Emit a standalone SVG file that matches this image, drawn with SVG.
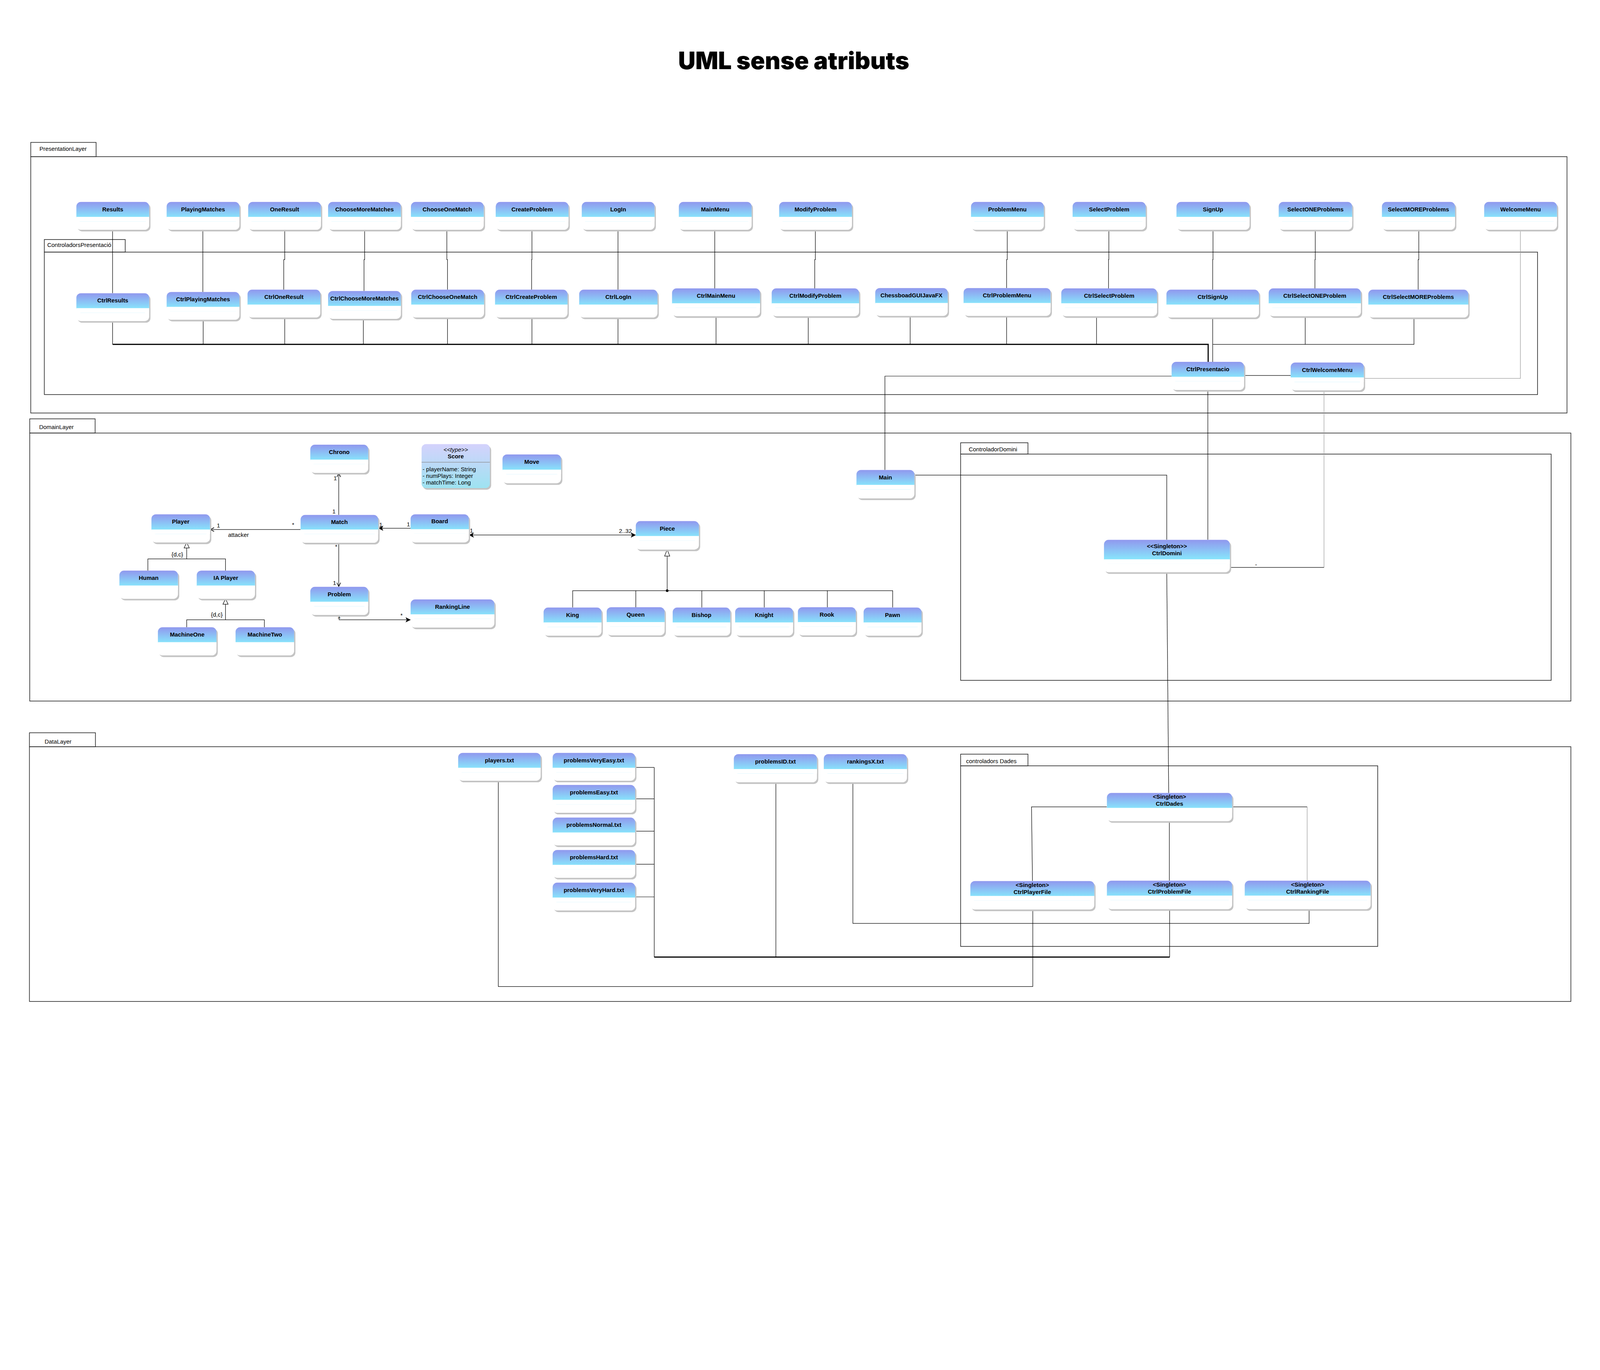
<svg xmlns="http://www.w3.org/2000/svg" width="4945" height="3506" viewBox="0 0 4945 3506" preserveAspectRatio="xMidYMin meet" style="width:100vw;height:100vh;display:block">
<defs>
<linearGradient id="hg" x1="0" y1="0" x2="0" y2="1"><stop offset="0" stop-color="#9098ee"/><stop offset="0.77" stop-color="#88e2fb"/><stop offset="1" stop-color="#88e2fb"/></linearGradient>
<linearGradient id="sg" x1="0" y1="0" x2="0" y2="1"><stop offset="0" stop-color="#d4d2fc"/><stop offset="1" stop-color="#9de3f1"/></linearGradient>
<marker id="open" viewBox="0 0 12 12" refX="11" refY="6" markerWidth="14" markerHeight="14" markerUnits="userSpaceOnUse" orient="auto-start-reverse"><path d="M1,1 L11,6 L1,11" fill="none" stroke="#000" stroke-width="1.6"/></marker>
<marker id="fill" viewBox="0 0 12 12" refX="11" refY="6" markerWidth="16" markerHeight="16" markerUnits="userSpaceOnUse" orient="auto-start-reverse"><path d="M0,0 L12,6 L0,12 L3,6 Z" fill="#000"/></marker>
</defs>
<style>
.sh{fill:#c4c4c4}
.bd{fill:#fff}
.hd{fill:url(#hg)}
.nt{font-family:'Liberation Sans',Arial,sans-serif;font-weight:bold;font-size:18px;text-anchor:middle;fill:#000}
.pk{fill:none;stroke:#2a2a2a;stroke-width:2}
.tb{fill:#fff;stroke:#2a2a2a;stroke-width:2}
.tl{font-family:'Liberation Sans',Arial,sans-serif;font-size:18px;fill:#000}
.lb{font-family:'Liberation Sans',Arial,sans-serif;font-size:18px;text-anchor:middle;fill:#000}
.cn{fill:none;stroke:#000;stroke-width:1.5}
.gr{stroke:#9a9a9a}
.tk{stroke-width:3.5}
.gt{fill:#fff;stroke:#000;stroke-width:1.5}
</style>
<rect width="4945" height="3506" fill="#fff"/>
<text x="2453" y="214" font-family="Inter, 'Liberation Sans', sans-serif" font-weight="900" font-size="74" text-anchor="middle" textLength="714" lengthAdjust="spacingAndGlyphs">UML sense atributs</text>

<g id="containers">
<rect class="tb" x="95" y="440" width="202" height="44"/><text class="tl" x="122" y="466">PresentationLayer</text>
<rect class="pk" x="95" y="484" width="4748" height="792"/>
<rect class="tb" x="137" y="740" width="250" height="39"/><text class="tl" x="146" y="763">ControladorsPresentació</text>
<rect class="pk" x="137" y="779" width="4615" height="440"/>
<rect class="tb" x="92" y="1294" width="202" height="44"/><text class="tl" x="121" y="1326">DomainLayer</text>
<rect class="pk" x="92" y="1338" width="4763" height="828"/>
<rect class="tb" x="2969" y="1368" width="208" height="35"/><text class="tl" x="2994" y="1395">ControladorDomini</text>
<rect class="pk" x="2969" y="1403" width="1825" height="699"/>
<rect class="tb" x="91" y="2264" width="204" height="43"/><text class="tl" x="138" y="2298">DataLayer</text>
<rect class="pk" x="91" y="2307" width="4764" height="787"/>
<rect class="tb" x="2969" y="2330" width="208" height="36"/><text class="tl" x="2986" y="2358">controladors Dades</text>
<rect class="pk" x="2969" y="2366" width="1289" height="558"/>
</g>

<g id="connectors">
<path class="cn" d="M348,710 V906"/>
<path class="cn" d="M627,710 V902"/>
<path class="cn" d="M880,710 V802 H877 V895"/>
<path class="cn" d="M1127,710 V802 H1125 V899"/>
<path class="cn" d="M1381,710 V802 H1383 V895"/>
<path class="cn" d="M1644,710 V802 H1643 V895"/>
<path class="cn" d="M1910,710 V895"/>
<path class="cn" d="M2209,710 V891"/>
<path class="cn" d="M2520,710 V802 H2518 V891"/>
<path class="cn" d="M3113,710 V802 H3111 V890"/>
<path class="cn" d="M3427,710 V802 H3426 V891"/>
<path class="cn" d="M3749,710 V802 H3748 V895"/>
<path class="cn" d="M4065,710 V802 H4064 V891"/>
<path class="cn" d="M4385,710 V802 H4383 V895"/>
<path class="cn gr" d="M4699,710 V1169 H4215"/>
<path class="cn" d="M348,992 V1064"/>
<path class="cn tk" d="M348,1064 H3734 V1118"/>
<path class="cn" d="M628,988 V1064"/>
<path class="cn" d="M880,981 V1064"/>
<path class="cn" d="M1123,985 V1064"/>
<path class="cn" d="M1383,981 V1064"/>
<path class="cn" d="M1644,981 V1064"/>
<path class="cn" d="M1910,981 V1064"/>
<path class="cn" d="M2213,977 V1064"/>
<path class="cn" d="M2498,977 V1064"/>
<path class="cn" d="M2813,976 V1064"/>
<path class="cn" d="M3111,976 V1064"/>
<path class="cn" d="M3389,977 V1064"/>
<path class="cn" d="M3748,981 V1118"/>
<path class="cn" d="M4034,977 V1064"/>
<path class="cn" d="M4370,981 V1064 H3748"/>
<path class="cn" d="M3845,1160 H3989"/>
<path class="cn" d="M2735,1452 V1162 H3621"/>
<path class="cn" d="M2826,1468 H3606 V1668"/>
<path class="cn" d="M3733,1205 V1668"/>
<path class="cn gr" d="M4092,1206 V1753"/>
<path class="cn" d="M4092,1753 H3801"/>
<text class="lb" x="3882" y="1750">-</text>
<path class="cn" d="M3606,1768 L3612,2450"/>

<path class="cn" d="M1047,1591 V1462" marker-end="url(#open)"/>
<path class="cn" d="M929,1636 H650" marker-end="url(#open)"/>
<path class="cn" d="M1269,1632 H1170" marker-end="url(#fill)"/>
<path class="cn" d="M1450,1653 H1964" marker-start="url(#fill)" marker-end="url(#fill)"/>
<path class="cn" d="M1047,1677 V1812" marker-end="url(#open)"/>
<path class="cn" d="M1048,1900 V1915 H1268" marker-end="url(#fill)"/>
<path class="cn" d="M577,1727 V1693"/>
<polygon class="gt" points="577,1676 569,1693 585,1693"/>
<path class="cn" d="M457,1763 V1727 H697 V1763"/>
<path class="cn" d="M697,1915 V1867"/>
<polygon class="gt" points="697,1850 689,1867 705,1867"/>
<path class="cn" d="M577,1938 V1915 H817 V1938"/>
<path class="cn" d="M2062,1825 V1718"/>
<polygon class="gt" points="2062,1698 2054,1718 2070,1718"/>
<path class="cn" d="M1770,1877 V1825 H2759 V1877"/>
<path class="cn" d="M1965,1825 V1876"/>
<path class="cn" d="M2169,1825 V1877"/>
<path class="cn" d="M2362,1825 V1877"/>
<path class="cn" d="M2557,1825 V1876"/>
<circle cx="2062" cy="1825" r="4" fill="#000"/>
<text class="lb" x="1036" y="1484">1</text>
<text class="lb" x="1032" y="1586">1</text>
<text class="lb" x="906" y="1627">*</text>
<text class="lb" x="675" y="1630">1</text>
<text class="tl" x="705" y="1659">attacker</text>
<text class="lb" x="1177" y="1628">1</text>
<text class="lb" x="1262" y="1626">1</text>
<text class="lb" x="1457" y="1645">1</text>
<text class="lb" x="1933" y="1647">2..32</text>
<text class="lb" x="1039" y="1695">*</text>
<text class="lb" x="1034" y="1807">1</text>
<text class="lb" x="1048" y="1910">1</text>
<text class="lb" x="1241" y="1907">*</text>
<text class="lb" x="548" y="1719">{d,c}</text>
<text class="lb" x="670" y="1905">{d,c}</text>

<path class="cn" d="M1963,2371 H2022 M1963,2468 H2022 M1963,2568 H2022 M1963,2670 H2022 M1963,2771 H2022"/>
<path class="cn" d="M2022,2371 V2957"/>
<path class="cn tk" d="M2022,2957 H3615"/>
<path class="cn" d="M3615,2957 V2809"/>
<path class="cn" d="M2398,2417 V2957"/>
<path class="cn" d="M2636,2417 V2853 H4046 V2809"/>
<path class="cn" d="M1540,2412 V3048 H3192 V2810"/>
<path class="cn" d="M3421,2493 H3188 L3191,2722"/>
<path class="cn" d="M3808,2493 H4040"/>
<path class="cn gr" d="M4040,2493 V2721"/>
<path class="cn" d="M3614,2537 V2721"/>
</g>

<g id="n-Results"><rect class="sh" x="240" y="629" width="225" height="86" rx="14"/><rect class="bd" x="236" y="624" width="225" height="86" rx="14"/><rect class="hd" x="236" y="624" width="225" height="60" rx="14"/><rect class="bd" x="236" y="670" width="225" height="14"/><text class="nt" x="348.5" y="653">Results</text></g>
<g id="n-PlayingMatches"><rect class="sh" x="519" y="629" width="225" height="86" rx="14"/><rect class="bd" x="515" y="624" width="225" height="86" rx="14"/><rect class="hd" x="515" y="624" width="225" height="60" rx="14"/><rect class="bd" x="515" y="670" width="225" height="14"/><text class="nt" x="627.5" y="653">PlayingMatches</text></g>
<g id="n-OneResult"><rect class="sh" x="771" y="629" width="225" height="86" rx="14"/><rect class="bd" x="767" y="624" width="225" height="86" rx="14"/><rect class="hd" x="767" y="624" width="225" height="60" rx="14"/><rect class="bd" x="767" y="670" width="225" height="14"/><text class="nt" x="879.5" y="653">OneResult</text></g>
<g id="n-ChooseMoreMatches"><rect class="sh" x="1018" y="629" width="225" height="86" rx="14"/><rect class="bd" x="1014" y="624" width="225" height="86" rx="14"/><rect class="hd" x="1014" y="624" width="225" height="60" rx="14"/><rect class="bd" x="1014" y="670" width="225" height="14"/><text class="nt" x="1126.5" y="653">ChooseMoreMatches</text></g>
<g id="n-ChooseOneMatch"><rect class="sh" x="1274" y="629" width="225" height="86" rx="14"/><rect class="bd" x="1270" y="624" width="225" height="86" rx="14"/><rect class="hd" x="1270" y="624" width="225" height="60" rx="14"/><rect class="bd" x="1270" y="670" width="225" height="14"/><text class="nt" x="1382.5" y="653">ChooseOneMatch</text></g>
<g id="n-CreateProblem"><rect class="sh" x="1536" y="629" width="225" height="86" rx="14"/><rect class="bd" x="1532" y="624" width="225" height="86" rx="14"/><rect class="hd" x="1532" y="624" width="225" height="60" rx="14"/><rect class="bd" x="1532" y="670" width="225" height="14"/><text class="nt" x="1644.5" y="653">CreateProblem</text></g>
<g id="n-LogIn"><rect class="sh" x="1802" y="629" width="225" height="86" rx="14"/><rect class="bd" x="1798" y="624" width="225" height="86" rx="14"/><rect class="hd" x="1798" y="624" width="225" height="60" rx="14"/><rect class="bd" x="1798" y="670" width="225" height="14"/><text class="nt" x="1910.5" y="653">LogIn</text></g>
<g id="n-MainMenu"><rect class="sh" x="2102" y="629" width="225" height="86" rx="14"/><rect class="bd" x="2098" y="624" width="225" height="86" rx="14"/><rect class="hd" x="2098" y="624" width="225" height="60" rx="14"/><rect class="bd" x="2098" y="670" width="225" height="14"/><text class="nt" x="2210.5" y="653">MainMenu</text></g>
<g id="n-ModifyProblem"><rect class="sh" x="2412" y="629" width="225" height="86" rx="14"/><rect class="bd" x="2408" y="624" width="225" height="86" rx="14"/><rect class="hd" x="2408" y="624" width="225" height="60" rx="14"/><rect class="bd" x="2408" y="670" width="225" height="14"/><text class="nt" x="2520.5" y="653">ModifyProblem</text></g>
<g id="n-ProblemMenu"><rect class="sh" x="3005" y="629" width="225" height="86" rx="14"/><rect class="bd" x="3001" y="624" width="225" height="86" rx="14"/><rect class="hd" x="3001" y="624" width="225" height="60" rx="14"/><rect class="bd" x="3001" y="670" width="225" height="14"/><text class="nt" x="3113.5" y="653">ProblemMenu</text></g>
<g id="n-SelectProblem"><rect class="sh" x="3319" y="629" width="226" height="86" rx="14"/><rect class="bd" x="3315" y="624" width="226" height="86" rx="14"/><rect class="hd" x="3315" y="624" width="226" height="60" rx="14"/><rect class="bd" x="3315" y="670" width="226" height="14"/><text class="nt" x="3428" y="653">SelectProblem</text></g>
<g id="n-SignUp"><rect class="sh" x="3640" y="629" width="226" height="86" rx="14"/><rect class="bd" x="3636" y="624" width="226" height="86" rx="14"/><rect class="hd" x="3636" y="624" width="226" height="60" rx="14"/><rect class="bd" x="3636" y="670" width="226" height="14"/><text class="nt" x="3749" y="653">SignUp</text></g>
<g id="n-SelectONEProblems"><rect class="sh" x="3956" y="629" width="227" height="86" rx="14"/><rect class="bd" x="3952" y="624" width="227" height="86" rx="14"/><rect class="hd" x="3952" y="624" width="227" height="60" rx="14"/><rect class="bd" x="3952" y="670" width="227" height="14"/><text class="nt" x="4065.5" y="653">SelectONEProblems</text></g>
<g id="n-SelectMOREProblems"><rect class="sh" x="4275" y="629" width="226" height="86" rx="14"/><rect class="bd" x="4271" y="624" width="226" height="86" rx="14"/><rect class="hd" x="4271" y="624" width="226" height="60" rx="14"/><rect class="bd" x="4271" y="670" width="226" height="14"/><text class="nt" x="4384" y="653">SelectMOREProblems</text></g>
<g id="n-WelcomeMenu"><rect class="sh" x="4591" y="629" width="225" height="86" rx="14"/><rect class="bd" x="4587" y="624" width="225" height="86" rx="14"/><rect class="hd" x="4587" y="624" width="225" height="60" rx="14"/><rect class="bd" x="4587" y="670" width="225" height="14"/><text class="nt" x="4699.5" y="653">WelcomeMenu</text></g>

<g id="n-CtrlResults"><rect class="sh" x="240" y="911" width="225" height="86" rx="14"/><rect class="bd" x="236" y="906" width="225" height="86" rx="14"/><rect class="hd" x="236" y="906" width="225" height="60" rx="14"/><rect class="bd" x="236" y="952" width="225" height="14"/><text class="nt" x="348.5" y="935">CtrlResults</text></g>
<g id="n-CtrlPlayingMatches"><rect class="sh" x="519" y="907" width="225" height="86" rx="14"/><rect class="bd" x="515" y="902" width="225" height="86" rx="14"/><rect class="hd" x="515" y="902" width="225" height="60" rx="14"/><rect class="bd" x="515" y="948" width="225" height="14"/><text class="nt" x="627.5" y="931">CtrlPlayingMatches</text></g>
<g id="n-CtrlOneResult"><rect class="sh" x="769" y="900" width="225" height="86" rx="14"/><rect class="bd" x="765" y="895" width="225" height="86" rx="14"/><rect class="hd" x="765" y="895" width="225" height="60" rx="14"/><rect class="bd" x="765" y="941" width="225" height="14"/><text class="nt" x="877.5" y="924">CtrlOneResult</text></g>
<g id="n-CtrlChooseMoreMatches"><rect class="sh" x="1018" y="904" width="225" height="86" rx="14"/><rect class="bd" x="1014" y="899" width="225" height="86" rx="14"/><rect class="hd" x="1014" y="899" width="225" height="60" rx="14"/><rect class="bd" x="1014" y="945" width="225" height="14"/><text class="nt" x="1126.5" y="928">CtrlChooseMoreMatches</text></g>
<g id="n-CtrlChooseOneMatch"><rect class="sh" x="1275" y="900" width="225" height="86" rx="14"/><rect class="bd" x="1271" y="895" width="225" height="86" rx="14"/><rect class="hd" x="1271" y="895" width="225" height="60" rx="14"/><rect class="bd" x="1271" y="941" width="225" height="14"/><text class="nt" x="1383.5" y="924">CtrlChooseOneMatch</text></g>
<g id="n-CtrlCreateProblem"><rect class="sh" x="1534" y="900" width="224" height="86" rx="14"/><rect class="bd" x="1530" y="895" width="224" height="86" rx="14"/><rect class="hd" x="1530" y="895" width="224" height="60" rx="14"/><rect class="bd" x="1530" y="941" width="224" height="14"/><text class="nt" x="1642" y="924">CtrlCreateProblem</text></g>
<g id="n-CtrlLogIn"><rect class="sh" x="1794" y="900" width="242" height="86" rx="14"/><rect class="bd" x="1790" y="895" width="242" height="86" rx="14"/><rect class="hd" x="1790" y="895" width="242" height="60" rx="14"/><rect class="bd" x="1790" y="941" width="242" height="14"/><text class="nt" x="1911" y="924">CtrlLogIn</text></g>
<g id="n-CtrlMainMenu"><rect class="sh" x="2081" y="896" width="272" height="86" rx="14"/><rect class="bd" x="2077" y="891" width="272" height="86" rx="14"/><rect class="hd" x="2077" y="891" width="272" height="60" rx="14"/><rect class="bd" x="2077" y="937" width="272" height="14"/><text class="nt" x="2213" y="920">CtrlMainMenu</text></g>
<g id="n-CtrlModifyProblem"><rect class="sh" x="2389" y="896" width="270" height="86" rx="14"/><rect class="bd" x="2385" y="891" width="270" height="86" rx="14"/><rect class="hd" x="2385" y="891" width="270" height="60" rx="14"/><rect class="bd" x="2385" y="937" width="270" height="14"/><text class="nt" x="2520" y="920">CtrlModifyProblem</text></g>
<g id="n-ChessboadGUIJavaFX"><rect class="sh" x="2709" y="895" width="224" height="86" rx="14"/><rect class="bd" x="2705" y="890" width="224" height="86" rx="14"/><rect class="hd" x="2705" y="890" width="224" height="60" rx="14"/><rect class="bd" x="2705" y="936" width="224" height="14"/><text class="nt" x="2817" y="919">ChessboadGUIJavaFX</text></g>
<g id="n-CtrlProblemMenu"><rect class="sh" x="2982" y="895" width="269" height="86" rx="14"/><rect class="bd" x="2978" y="890" width="269" height="86" rx="14"/><rect class="hd" x="2978" y="890" width="269" height="60" rx="14"/><rect class="bd" x="2978" y="936" width="269" height="14"/><text class="nt" x="3112.5" y="919">CtrlProblemMenu</text></g>
<g id="n-CtrlSelectProblem"><rect class="sh" x="3284" y="896" width="296" height="86" rx="14"/><rect class="bd" x="3280" y="891" width="296" height="86" rx="14"/><rect class="hd" x="3280" y="891" width="296" height="60" rx="14"/><rect class="bd" x="3280" y="937" width="296" height="14"/><text class="nt" x="3428" y="920">CtrlSelectProblem</text></g>
<g id="n-CtrlSignUp"><rect class="sh" x="3609" y="900" width="286" height="86" rx="14"/><rect class="bd" x="3605" y="895" width="286" height="86" rx="14"/><rect class="hd" x="3605" y="895" width="286" height="60" rx="14"/><rect class="bd" x="3605" y="941" width="286" height="14"/><text class="nt" x="3748" y="924">CtrlSignUp</text></g>
<g id="n-CtrlSelectONEProblem"><rect class="sh" x="3925" y="896" width="285" height="86" rx="14"/><rect class="bd" x="3921" y="891" width="285" height="86" rx="14"/><rect class="hd" x="3921" y="891" width="285" height="60" rx="14"/><rect class="bd" x="3921" y="937" width="285" height="14"/><text class="nt" x="4063.5" y="920">CtrlSelectONEProblem</text></g>
<g id="n-CtrlSelectMOREProblems"><rect class="sh" x="4233" y="900" width="309" height="86" rx="14"/><rect class="bd" x="4229" y="895" width="309" height="86" rx="14"/><rect class="hd" x="4229" y="895" width="309" height="60" rx="14"/><rect class="bd" x="4229" y="941" width="309" height="14"/><text class="nt" x="4383.5" y="924">CtrlSelectMOREProblems</text></g>
<g id="n-CtrlPresentacio"><rect class="sh" x="3625" y="1123" width="224" height="87" rx="14"/><rect class="bd" x="3621" y="1118" width="224" height="87" rx="14"/><rect class="hd" x="3621" y="1118" width="224" height="60" rx="14"/><rect class="bd" x="3621" y="1164" width="224" height="14"/><text class="nt" x="3733" y="1147">CtrlPresentacio</text></g>
<g id="n-CtrlWelcomeMenu"><rect class="sh" x="3993" y="1125" width="226" height="86" rx="14"/><rect class="bd" x="3989" y="1120" width="226" height="86" rx="14"/><rect class="hd" x="3989" y="1120" width="226" height="60" rx="14"/><rect class="bd" x="3989" y="1166" width="226" height="14"/><text class="nt" x="4102" y="1149">CtrlWelcomeMenu</text></g>

<g id="n-Chrono"><rect class="sh" x="963" y="1379" width="179" height="87" rx="14"/><rect class="bd" x="959" y="1374" width="179" height="87" rx="14"/><rect class="hd" x="959" y="1374" width="179" height="60" rx="14"/><rect class="bd" x="959" y="1420" width="179" height="14"/><text class="nt" x="1048.5" y="1403">Chrono</text></g>
<g id="n-Score"><rect class="sh" x="1307" y="1377" width="211" height="136" rx="14"/><rect x="1303" y="1372" width="211" height="136" rx="14" fill="url(#sg)"/><line x1="1303" y1="1428" x2="1514" y2="1428" stroke="#8a8a8a" stroke-width="1.5"/><text class="lb" x="1408.5" y="1396" font-style="italic">&lt;&lt;type&gt;&gt;</text><text class="nt" x="1408.5" y="1416">Score</text><text class="tl" x="1306" y="1456">- playerName: String</text><text class="tl" x="1306" y="1476">- numPlays: Integer</text><text class="tl" x="1306" y="1497">- matchTime: Long</text></g>
<g id="n-Move"><rect class="sh" x="1557" y="1409" width="181" height="89" rx="14"/><rect class="bd" x="1553" y="1404" width="181" height="89" rx="14"/><rect class="hd" x="1553" y="1404" width="181" height="61" rx="14"/><rect class="bd" x="1553" y="1451" width="181" height="14"/><text class="nt" x="1643.5" y="1433">Move</text></g>
<g id="n-Player"><rect class="sh" x="472" y="1594" width="181" height="87" rx="14"/><rect class="bd" x="468" y="1589" width="181" height="87" rx="14"/><rect class="hd" x="468" y="1589" width="181" height="61" rx="14"/><rect class="bd" x="468" y="1636" width="181" height="14"/><text class="nt" x="558.5" y="1618">Player</text></g>
<g id="n-Match"><rect class="sh" x="933" y="1596" width="240" height="86" rx="14"/><rect class="bd" x="929" y="1591" width="240" height="86" rx="14"/><rect class="hd" x="929" y="1591" width="240" height="59" rx="14"/><rect class="bd" x="929" y="1636" width="240" height="14"/><text class="nt" x="1049" y="1619">Match</text></g>
<g id="n-Board"><rect class="sh" x="1273" y="1594" width="180" height="87" rx="14"/><rect class="bd" x="1269" y="1589" width="180" height="87" rx="14"/><rect class="hd" x="1269" y="1589" width="180" height="60" rx="14"/><rect class="bd" x="1269" y="1635" width="180" height="14"/><text class="nt" x="1359" y="1617">Board</text></g>
<g id="n-Human"><rect class="sh" x="373" y="1768" width="181" height="87" rx="14"/><rect class="bd" x="369" y="1763" width="181" height="87" rx="14"/><rect class="hd" x="369" y="1763" width="181" height="60" rx="14"/><rect class="bd" x="369" y="1809" width="181" height="14"/><text class="nt" x="459.5" y="1792">Human</text></g>
<g id="n-IAPlayer"><rect class="sh" x="612" y="1768" width="180" height="87" rx="14"/><rect class="bd" x="608" y="1763" width="180" height="87" rx="14"/><rect class="hd" x="608" y="1763" width="180" height="60" rx="14"/><rect class="bd" x="608" y="1809" width="180" height="14"/><text class="nt" x="698" y="1792">IA Player</text></g>
<g id="n-MachineOne"><rect class="sh" x="492" y="1943" width="181" height="87" rx="14"/><rect class="bd" x="488" y="1938" width="181" height="87" rx="14"/><rect class="hd" x="488" y="1938" width="181" height="60" rx="14"/><rect class="bd" x="488" y="1984" width="181" height="14"/><text class="nt" x="578.5" y="1967">MachineOne</text></g>
<g id="n-MachineTwo"><rect class="sh" x="732" y="1943" width="181" height="87" rx="14"/><rect class="bd" x="728" y="1938" width="181" height="87" rx="14"/><rect class="hd" x="728" y="1938" width="181" height="60" rx="14"/><rect class="bd" x="728" y="1984" width="181" height="14"/><text class="nt" x="818.5" y="1967">MachineTwo</text></g>
<g id="n-Problem"><rect class="sh" x="963" y="1818" width="179" height="87" rx="14"/><rect class="bd" x="959" y="1813" width="179" height="87" rx="14"/><rect class="hd" x="959" y="1813" width="179" height="60" rx="14"/><rect class="bd" x="959" y="1859" width="179" height="14"/><text class="nt" x="1048.5" y="1842">Problem</text></g>
<g id="n-RankingLine"><rect class="sh" x="1273" y="1857" width="259" height="87" rx="14"/><rect class="bd" x="1269" y="1852" width="259" height="87" rx="14"/><rect class="hd" x="1269" y="1852" width="259" height="60" rx="14"/><rect class="bd" x="1269" y="1898" width="259" height="14"/><text class="nt" x="1398.5" y="1881">RankingLine</text></g>
<g id="n-Piece"><rect class="sh" x="1969" y="1615" width="195" height="88" rx="14"/><rect class="bd" x="1965" y="1610" width="195" height="88" rx="14"/><rect class="hd" x="1965" y="1610" width="195" height="60" rx="14"/><rect class="bd" x="1965" y="1656" width="195" height="14"/><text class="nt" x="2062.5" y="1639">Piece</text></g>
<g id="n-King"><rect class="sh" x="1684" y="1882" width="179" height="87" rx="14"/><rect class="bd" x="1680" y="1877" width="179" height="87" rx="14"/><rect class="hd" x="1680" y="1877" width="179" height="60" rx="14"/><rect class="bd" x="1680" y="1923" width="179" height="14"/><text class="nt" x="1769.5" y="1906">King</text></g>
<g id="n-Queen"><rect class="sh" x="1879" y="1881" width="179" height="87" rx="14"/><rect class="bd" x="1875" y="1876" width="179" height="87" rx="14"/><rect class="hd" x="1875" y="1876" width="179" height="60" rx="14"/><rect class="bd" x="1875" y="1922" width="179" height="14"/><text class="nt" x="1964.5" y="1905">Queen</text></g>
<g id="n-Bishop"><rect class="sh" x="2083" y="1882" width="178" height="87" rx="14"/><rect class="bd" x="2079" y="1877" width="178" height="87" rx="14"/><rect class="hd" x="2079" y="1877" width="178" height="60" rx="14"/><rect class="bd" x="2079" y="1923" width="178" height="14"/><text class="nt" x="2168" y="1906">Bishop</text></g>
<g id="n-Knight"><rect class="sh" x="2276" y="1882" width="179" height="87" rx="14"/><rect class="bd" x="2272" y="1877" width="179" height="87" rx="14"/><rect class="hd" x="2272" y="1877" width="179" height="60" rx="14"/><rect class="bd" x="2272" y="1923" width="179" height="14"/><text class="nt" x="2361.5" y="1906">Knight</text></g>
<g id="n-Rook"><rect class="sh" x="2470" y="1881" width="179" height="87" rx="14"/><rect class="bd" x="2466" y="1876" width="179" height="87" rx="14"/><rect class="hd" x="2466" y="1876" width="179" height="60" rx="14"/><rect class="bd" x="2466" y="1922" width="179" height="14"/><text class="nt" x="2555.5" y="1905">Rook</text></g>
<g id="n-Pawn"><rect class="sh" x="2673" y="1882" width="179" height="87" rx="14"/><rect class="bd" x="2669" y="1877" width="179" height="87" rx="14"/><rect class="hd" x="2669" y="1877" width="179" height="60" rx="14"/><rect class="bd" x="2669" y="1923" width="179" height="14"/><text class="nt" x="2758.5" y="1906">Pawn</text></g>
<g id="n-Main"><rect class="sh" x="2651" y="1457" width="179" height="88" rx="14"/><rect class="bd" x="2647" y="1452" width="179" height="88" rx="14"/><rect class="hd" x="2647" y="1452" width="179" height="60" rx="14"/><rect class="bd" x="2647" y="1498" width="179" height="14"/><text class="nt" x="2736.5" y="1481">Main</text></g>
<g id="n-CtrlDomini"><rect class="sh" x="3416" y="1673" width="389" height="100" rx="14"/><rect class="bd" x="3412" y="1668" width="389" height="100" rx="14"/><rect class="hd" x="3412" y="1668" width="389" height="74" rx="14"/><rect class="bd" x="3412" y="1728" width="389" height="14"/><text class="nt" x="3606.5" y="1694">&lt;&lt;Singleton&gt;&gt;</text><text class="nt" x="3606.5" y="1715">CtrlDomini</text></g>

<g id="n-players"><rect class="sh" x="1420" y="2331" width="255" height="86" rx="14"/><rect class="bd" x="1416" y="2326" width="255" height="86" rx="14"/><rect class="hd" x="1416" y="2326" width="255" height="60" rx="14"/><rect class="bd" x="1416" y="2372" width="255" height="14"/><text class="nt" x="1543.5" y="2355">players.txt</text></g>
<g id="n-problemsVeryEasy"><rect class="sh" x="1712" y="2331" width="255" height="86" rx="14"/><rect class="bd" x="1708" y="2326" width="255" height="86" rx="14"/><rect class="hd" x="1708" y="2326" width="255" height="60" rx="14"/><rect class="bd" x="1708" y="2372" width="255" height="14"/><text class="nt" x="1835.5" y="2355">problemsVeryEasy.txt</text></g>
<g id="n-problemsEasy"><rect class="sh" x="1712" y="2430" width="255" height="86" rx="14"/><rect class="bd" x="1708" y="2425" width="255" height="86" rx="14"/><rect class="hd" x="1708" y="2425" width="255" height="60" rx="14"/><rect class="bd" x="1708" y="2471" width="255" height="14"/><text class="nt" x="1835.5" y="2454">problemsEasy.txt</text></g>
<g id="n-problemsNormal"><rect class="sh" x="1712" y="2531" width="255" height="86" rx="14"/><rect class="bd" x="1708" y="2526" width="255" height="86" rx="14"/><rect class="hd" x="1708" y="2526" width="255" height="60" rx="14"/><rect class="bd" x="1708" y="2572" width="255" height="14"/><text class="nt" x="1835.5" y="2555">problemsNormal.txt</text></g>
<g id="n-problemsHard"><rect class="sh" x="1712" y="2631" width="255" height="86" rx="14"/><rect class="bd" x="1708" y="2626" width="255" height="86" rx="14"/><rect class="hd" x="1708" y="2626" width="255" height="60" rx="14"/><rect class="bd" x="1708" y="2672" width="255" height="14"/><text class="nt" x="1835.5" y="2655">problemsHard.txt</text></g>
<g id="n-problemsVeryHard"><rect class="sh" x="1712" y="2732" width="255" height="86" rx="14"/><rect class="bd" x="1708" y="2727" width="255" height="86" rx="14"/><rect class="hd" x="1708" y="2727" width="255" height="60" rx="14"/><rect class="bd" x="1708" y="2773" width="255" height="14"/><text class="nt" x="1835.5" y="2756">problemsVeryHard.txt</text></g>
<g id="n-problemsID"><rect class="sh" x="2272" y="2335" width="257" height="87" rx="14"/><rect class="bd" x="2268" y="2330" width="257" height="87" rx="14"/><rect class="hd" x="2268" y="2330" width="257" height="60" rx="14"/><rect class="bd" x="2268" y="2376" width="257" height="14"/><text class="nt" x="2396.5" y="2359">problemsID.txt</text></g>
<g id="n-rankingsX"><rect class="sh" x="2550" y="2335" width="257" height="87" rx="14"/><rect class="bd" x="2546" y="2330" width="257" height="87" rx="14"/><rect class="hd" x="2546" y="2330" width="257" height="60" rx="14"/><rect class="bd" x="2546" y="2376" width="257" height="14"/><text class="nt" x="2674.5" y="2359">rankingsX.txt</text></g>
<g id="n-CtrlDades"><rect class="sh" x="3425" y="2455" width="387" height="87" rx="14"/><rect class="bd" x="3421" y="2450" width="387" height="87" rx="14"/><rect class="hd" x="3421" y="2450" width="387" height="60" rx="14"/><rect class="bd" x="3421" y="2496" width="387" height="14"/><text class="nt" x="3614.5" y="2468">&lt;Singleton&gt;</text><text class="nt" x="3614.5" y="2490">CtrlDades</text></g>
<g id="n-CtrlPlayerFile"><rect class="sh" x="3003" y="2727" width="383" height="88" rx="14"/><rect class="bd" x="2999" y="2722" width="383" height="88" rx="14"/><rect class="hd" x="2999" y="2722" width="383" height="60" rx="14"/><rect class="bd" x="2999" y="2768" width="383" height="14"/><text class="nt" x="3190.5" y="2740">&lt;Singleton&gt;</text><text class="nt" x="3190.5" y="2762">CtrlPlayerFile</text></g>
<g id="n-CtrlProblemFile"><rect class="sh" x="3425" y="2726" width="387" height="88" rx="14"/><rect class="bd" x="3421" y="2721" width="387" height="88" rx="14"/><rect class="hd" x="3421" y="2721" width="387" height="60" rx="14"/><rect class="bd" x="3421" y="2767" width="387" height="14"/><text class="nt" x="3614.5" y="2739">&lt;Singleton&gt;</text><text class="nt" x="3614.5" y="2761">CtrlProblemFile</text></g>
<g id="n-CtrlRankingFile"><rect class="sh" x="3851" y="2726" width="389" height="88" rx="14"/><rect class="bd" x="3847" y="2721" width="389" height="88" rx="14"/><rect class="hd" x="3847" y="2721" width="389" height="60" rx="14"/><rect class="bd" x="3847" y="2767" width="389" height="14"/><text class="nt" x="4041.5" y="2739">&lt;Singleton&gt;</text><text class="nt" x="4041.5" y="2761">CtrlRankingFile</text></g>
</svg>
